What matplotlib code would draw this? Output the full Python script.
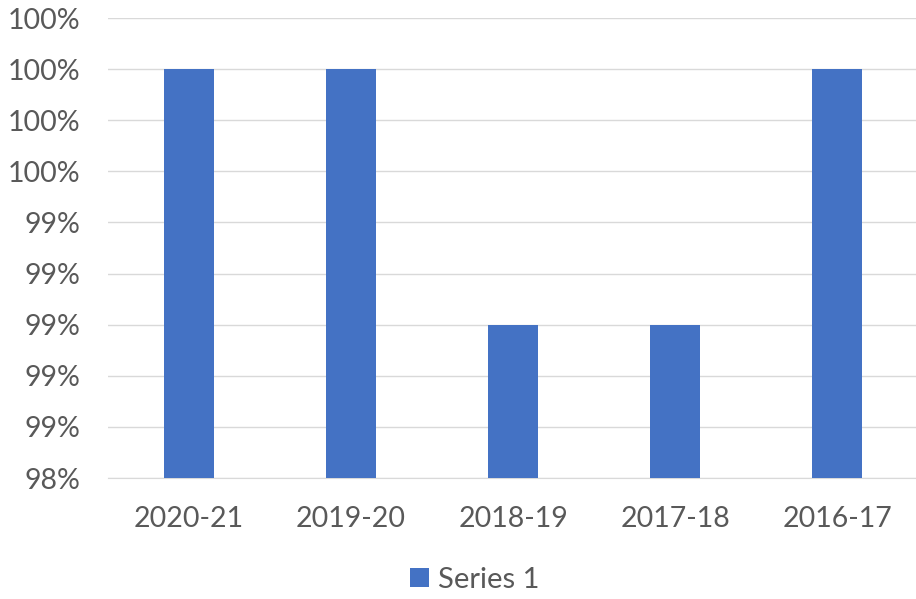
import matplotlib
matplotlib.use("Agg")
import matplotlib.pyplot as plt
from matplotlib.ticker import FuncFormatter, MultipleLocator

categories = ["2020-21", "2019-20", "2018-19", "2017-18", "2016-17"]
values = [1.000, 1.000, 0.990, 0.990, 1.000]
series_name = "Series 1"

plt.rcParams['font.family'] = ['Lato', 'DejaVu Sans']
text_color = "#595959"

fig = plt.figure(figsize=(9.16, 5.99), dpi=100)
ax = fig.add_axes([108/916, 1-478/599, (918-108)/916, (478-18)/599])

x = range(len(categories))
ax.bar(x, values, width=0.31, color="#4472C4", label=series_name, zorder=3)

ax.set_ylim(0.984, 1.002)
ax.yaxis.set_major_locator(MultipleLocator(0.002))
ax.yaxis.set_major_formatter(FuncFormatter(lambda v, p: f"{v*100:.0f}%"))
ax.set_xlim(-0.5, len(categories)-0.5)
ax.set_xticks(list(x))
ax.set_xticklabels(categories)

ax.grid(axis='y', color="#D9D9D9", linewidth=1.0, zorder=0)
for s in ['top', 'right', 'left']:
    ax.spines[s].set_visible(False)
ax.spines['bottom'].set_color("#D9D9D9")
ax.tick_params(axis='both', length=0, colors=text_color, labelsize=20.5)
ax.tick_params(axis='y', pad=20)
ax.tick_params(axis='x', pad=20)

leg = fig.legend(loc='center', bbox_to_anchor=(475/916, 1-580/599), frameon=False,
                 fontsize=21, handlelength=0.65, handleheight=0.65, handletextpad=0.3)
for t in leg.get_texts():
    t.set_color(text_color)

fig.savefig("out.png", dpi=100)
